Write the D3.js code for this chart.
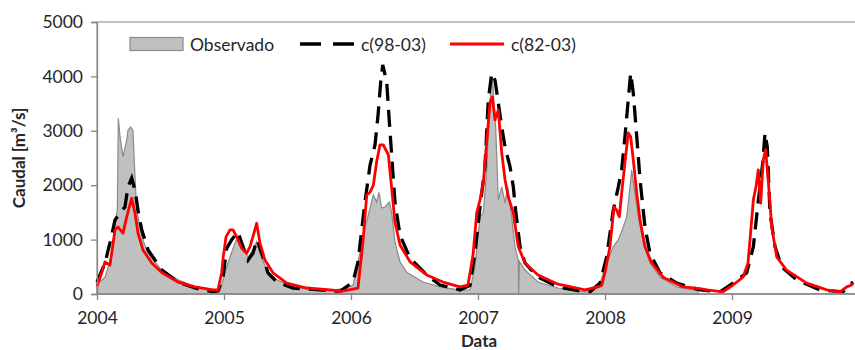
<!DOCTYPE html>
<html>
<head>
<meta charset="utf-8">
<script src="https://cdn.jsdelivr.net/npm/d3@7"></script>
<style>
  body { margin: 0; background: #fff; }
  svg text { font-family: Lato, "Open Sans", sans-serif; fill: #262626; }
</style>
</head>
<body>
<svg width="855" height="350"></svg>
<script>
// decimal years (2004.0 = 1 Jan 2004) and flows in m3/s
const obsT = [2004.000, 2004.037, 2004.063, 2004.102, 2004.118, 2004.142, 2004.160, 2004.168, 2004.181, 2004.205,
  2004.234, 2004.244, 2004.265, 2004.283, 2004.299, 2004.313, 2004.352, 2004.402, 2004.509, 2004.638,
  2004.772, 2004.929, 2004.969, 2005.008, 2005.047, 2005.087, 2005.110, 2005.150, 2005.189, 2005.228,
  2005.257, 2005.283, 2005.336, 2005.415, 2005.543, 2005.730, 2005.858, 2005.966, 2006.016, 2006.055,
  2006.110, 2006.150, 2006.176, 2006.202, 2006.220, 2006.242, 2006.268, 2006.302, 2006.320, 2006.346,
  2006.386, 2006.439, 2006.567, 2006.701, 2006.858, 2006.937, 2006.976, 2007.016, 2007.042, 2007.068,
  2007.094, 2007.113, 2007.139, 2007.160, 2007.187, 2007.213, 2007.234, 2007.265, 2007.291, 2007.317,
  2007.320, 2007.326, 2007.370, 2007.472, 2007.630, 2007.843, 2007.882, 2007.961, 2008.013, 2008.065,
  2008.105, 2008.144, 2008.171, 2008.197, 2008.210, 2008.228, 2008.263, 2008.302, 2008.354, 2008.433,
  2008.565, 2008.693, 2008.732];
const obsV = [220, 250, 310, 600, 750, 1300, 1540, 3230, 2900, 2520,
  2830, 3010, 3070, 3010, 2150, 1540, 1050, 750, 440, 260,
  130, 70, 60, 390, 680, 940, 1050, 810, 680, 810,
  960, 750, 440, 260, 130, 70, 70, 110, 165, 590,
  1210, 1580, 1820, 1690, 1870, 1580, 1600, 1690, 1500, 960,
  590, 400, 220, 130, 70, 75, 500, 1420, 1490, 2280,
  3570, 3990, 3070, 1730, 1970, 1670, 1970, 1420, 870, 620,
  0, 600, 440, 220, 110, 40, 75, 200, 570, 870,
  1000, 1230, 1420, 1970, 2280, 1970, 1420, 940, 570, 310,
  130, 70, 60];

const c98T = [2004.000, 2004.063, 2004.102, 2004.142, 2004.181, 2004.220, 2004.244, 2004.273, 2004.299, 2004.323,
  2004.352, 2004.402, 2004.512, 2004.638, 2004.772, 2004.913, 2004.953, 2004.992, 2005.021, 2005.061,
  2005.110, 2005.139, 2005.189, 2005.228, 2005.260, 2005.297, 2005.346, 2005.415, 2005.543, 2005.858,
  2005.913, 2006.016, 2006.055, 2006.110, 2006.150, 2006.189, 2006.213, 2006.234, 2006.250, 2006.281,
  2006.302, 2006.320, 2006.346, 2006.386, 2006.465, 2006.596, 2006.701, 2006.858, 2006.937, 2006.976,
  2007.016, 2007.055, 2007.081, 2007.108, 2007.134, 2007.160, 2007.187, 2007.213, 2007.252, 2007.278,
  2007.296, 2007.331, 2007.370, 2007.472, 2007.630, 2007.843, 2007.882, 2007.961, 2008.013, 2008.065,
  2008.105, 2008.131, 2008.157, 2008.183, 2008.202, 2008.223, 2008.250, 2008.276, 2008.315, 2008.354,
  2008.433, 2008.565, 2008.748, 2008.906, 2009.008, 2009.116, 2009.168, 2009.199, 2009.220, 2009.242,
  2009.260, 2009.278, 2009.299, 2009.339, 2009.391, 2009.509, 2009.693, 2009.874, 2009.943, 2009.953];
const c98V = [220, 570, 940, 1360, 1490, 1600, 1970, 2130, 1910, 1540,
  1180, 810, 440, 220, 110, 40, 60, 310, 840, 1000,
  1140, 940, 620, 750, 1000, 750, 390, 220, 110, 55,
  50, 220, 590, 1690, 2370, 2740, 3290, 3900, 4210, 3900,
  3160, 2560, 1690, 1080, 660, 350, 165, 75, 160, 750,
  1600, 2340, 3570, 4060, 3930, 3510, 3070, 2700, 2340, 1970,
  1540, 870, 570, 310, 130, 40, 40, 200, 680, 1540,
  1970, 2280, 2890, 3570, 4060, 3690, 2890, 2100, 1230, 750,
  390, 200, 75, 40, 200, 390, 870, 1540, 1970, 2410,
  2960, 2700, 1490, 870, 500, 260, 75, 40, 200, 220];

const c82T = [2004.000, 2004.037, 2004.063, 2004.102, 2004.142, 2004.165, 2004.205, 2004.234, 2004.273, 2004.299,
  2004.323, 2004.362, 2004.431, 2004.512, 2004.638, 2004.772, 2004.913, 2004.953, 2004.982, 2004.994,
  2005.016, 2005.047, 2005.071, 2005.100, 2005.139, 2005.179, 2005.205, 2005.236, 2005.257, 2005.283,
  2005.323, 2005.386, 2005.494, 2005.651, 2005.858, 2005.913, 2006.055, 2006.094, 2006.124, 2006.150,
  2006.176, 2006.202, 2006.228, 2006.254, 2006.294, 2006.320, 2006.346, 2006.386, 2006.465, 2006.596,
  2006.724, 2006.858, 2006.921, 2006.961, 2006.990, 2007.016, 2007.042, 2007.068, 2007.094, 2007.113,
  2007.134, 2007.160, 2007.187, 2007.213, 2007.239, 2007.278, 2007.317, 2007.370, 2007.472, 2007.630,
  2007.843, 2007.945, 2007.974, 2008.000, 2008.039, 2008.071, 2008.092, 2008.113, 2008.131, 2008.157,
  2008.183, 2008.202, 2008.223, 2008.250, 2008.276, 2008.315, 2008.368, 2008.457, 2008.614, 2008.748,
  2008.801, 2008.929, 2009.008, 2009.087, 2009.126, 2009.155, 2009.168, 2009.189, 2009.207, 2009.226,
  2009.246, 2009.265, 2009.285, 2009.313, 2009.352, 2009.430, 2009.588, 2009.746, 2009.850, 2009.903,
  2009.943, 2009.953];
const c82V = [140, 390, 590, 530, 1180, 1230, 1120, 1420, 1760, 1490,
  1120, 810, 570, 390, 220, 130, 75, 75, 400, 680,
  1050, 1180, 1180, 1050, 840, 750, 870, 1120, 1300, 940,
  620, 390, 200, 110, 70, 45, 110, 960, 1820, 1870,
  2000, 2430, 2740, 2740, 2560, 1950, 1320, 900, 590, 350,
  220, 130, 165, 720, 1490, 1730, 2040, 2780, 3510, 3620,
  3200, 3380, 2590, 2100, 1780, 1490, 870, 570, 350, 180,
  75, 130, 160, 400, 870, 1600, 1540, 1420, 1850, 2410,
  2960, 2890, 2460, 1850, 1360, 870, 570, 310, 130, 100,
  75, 40, 165, 310, 570, 1360, 1730, 1970, 2280, 1670,
  2460, 2650, 2100, 1230, 680, 440, 200, 75, 40, 130,
  165, 200];

const yearTicks = [2004, 2005, 2006, 2007, 2008, 2009];
const yTicks = [0, 1000, 2000, 3000, 4000, 5000];

const svg = d3.select("svg"),
      margin = { top: 22, right: 0, bottom: 56, left: 97 },
      height = +svg.attr("height") - margin.top - margin.bottom;

const x = d3.scaleLinear().domain([2004, 2010]).range([margin.left, 859]);
const y = d3.scaleLinear().domain([0, 5000]).range([margin.top + height, margin.top]);

const toPts = (ts, vs) => ts.map((t, i) => ({ t, v: vs[i] }));
const obs = toPts(obsT, obsV), c98 = toPts(c98T, c98V), c82 = toPts(c82T, c82V);

const axisColor = "#868686";

// plot frame (top edge visible, right edge is outside the picture)
svg.append("rect")
  .attr("x", margin.left).attr("y", margin.top)
  .attr("width", 859 - margin.left).attr("height", height)
  .attr("fill", "none").attr("stroke", axisColor).attr("stroke-width", 1);

// observed area
svg.append("path")
  .datum(obs)
  .attr("fill", "#c0c0c0")
  .attr("stroke", "#8a8a8a")
  .attr("stroke-width", 1.2)
  .attr("d", d3.area().x(d => x(d.t)).y0(y(0)).y1(d => y(d.v)));

const line = d3.line().x(d => x(d.t)).y(d => y(d.v));

svg.append("path")
  .datum(c98)
  .attr("fill", "none")
  .attr("stroke", "#000")
  .attr("stroke-width", 3.3)
  .attr("stroke-dasharray", "17,9")
  .attr("d", line);

svg.append("path")
  .datum(c82)
  .attr("fill", "none")
  .attr("stroke", "#ff0000")
  .attr("stroke-width", 2.8)
  .attr("stroke-linejoin", "round")
  .attr("d", line);

// axes
const xAxis = svg.append("g")
  .attr("transform", `translate(0,${y(0)})`)
  .call(d3.axisBottom(x).tickValues(yearTicks).tickFormat(d3.format("d")).tickSize(6).tickPadding(12));
const yAxis = svg.append("g")
  .attr("transform", `translate(${margin.left},0)`)
  .call(d3.axisLeft(y).tickValues(yTicks).tickFormat(d3.format("d")).tickSize(6).tickPadding(8));

[xAxis, yAxis].forEach(a => {
  a.select(".domain").attr("stroke", axisColor).attr("stroke-width", 1.3);
  a.selectAll(".tick line").attr("stroke", axisColor).attr("stroke-width", 1.3);
  a.selectAll(".tick text").style("font-size", "17.5px").style("fill", "#262626");
});
xAxis.select(".domain").attr("d", `M${margin.left},0H859`);

// axis titles
svg.append("text")
  .attr("x", x(2007) + 1)
  .attr("y", 347)
  .attr("text-anchor", "middle")
  .style("font-size", "17px")
  .style("font-weight", "bold")
  .text("Data");

svg.append("text")
  .attr("transform", `translate(25,${(y(0) + y(5000)) / 2}) rotate(-90)`)
  .attr("text-anchor", "middle")
  .style("font-size", "17px")
  .style("font-weight", "bold")
  .text("Caudal [m³/s]");

// legend
const legend = svg.append("g").attr("transform", "translate(130,44)");
legend.append("rect")
  .attr("x", 0).attr("y", -6.5).attr("width", 53).attr("height", 13)
  .attr("fill", "#c0c0c0").attr("stroke", "#8a8a8a").attr("stroke-width", 1.2);
legend.append("text").attr("x", 60).attr("y", 6.5).style("font-size", "17.5px").text("Observado");

legend.append("line")
  .attr("x1", 170).attr("x2", 225).attr("y1", 0).attr("y2", 0)
  .attr("stroke", "#000").attr("stroke-width", 3.3).attr("stroke-dasharray", "21,12");
legend.append("text").attr("x", 231).attr("y", 6.5).style("font-size", "17.5px").text("c(98-03)");

legend.append("line")
  .attr("x1", 320).attr("x2", 374).attr("y1", 0).attr("y2", 0)
  .attr("stroke", "#ff0000").attr("stroke-width", 2.8);
legend.append("text").attr("x", 381).attr("y", 6.5).style("font-size", "17.5px").text("c(82-03)");
</script>
</body>
</html>
